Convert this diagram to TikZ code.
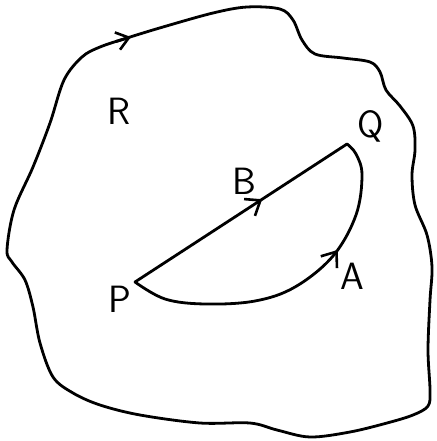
\documentclass[tikz,border=0pt]{standalone}
\usetikzlibrary{arrows.meta,decorations.markings}
\begin{document}
\begin{tikzpicture}[x=1pt,y=-1pt,
  pen/.style={line width=2.8pt, line cap=round, line join=round, black},
  lbl/.style={font=\sffamily\fontsize{38}{38}\selectfont, inner sep=0pt},
  midarrow/.style={postaction={decorate}, decoration={markings,
     mark=at position #1 with {\arrow{Straight Barb[length=13pt,width=20pt,line width=2.6pt]}}}}]
\useasboundingbox (0,0) rectangle (436,441);
% region boundary
\draw[pen] plot[smooth cycle, tension=0.55] coordinates {
 (7,250) (14,210) (33,167) (50,123) (64,80) (82,57) (100,47) (127,38) (163,27)
 (213,13) (247,7) (280,9) (293,20) (302,40) (315,54) (343,58) (370,62)
 (380,72) (386,90) (400,106) (413,126) (415,150) (412,175) (415,205)
 (427,235) (432,267) (430,300) (428,350) (430,390) (428,406) (413,415)
 (387,423) (350,432) (310,437) (277,430) (250,423) (200,423) (140,415)
 (100,405) (73,393) (53,377) (40,343) (33,307) (25,280) (12,262)};
\draw[pen, -{Straight Barb[length=12pt,width=18pt,line width=2.6pt]}] (116,41.5) -- (131,37);
% points
\coordinate (P) at (135,282);
\coordinate (Q) at (347,144);
% path B (straight)
\draw[pen, midarrow=0.6] (P) -- (Q);
% path A (curve)
\draw[pen, midarrow=0.66] plot[smooth, tension=0.6] coordinates {(P) (165,299) (205,304) (255,301) (295,287) (333,256) (356,215) (362,175) (356,154) (Q)};
% labels
\node[lbl] (lR) at (119,111) {R};
\node[lbl] (lQ) at (371,126) {Q};
\node[lbl] (lB) at (244,181) {B};
\node[lbl] (lP) at (120,299) {P};
\node[lbl] (lA) at (352,276) {A};
\end{tikzpicture}
\end{document}
